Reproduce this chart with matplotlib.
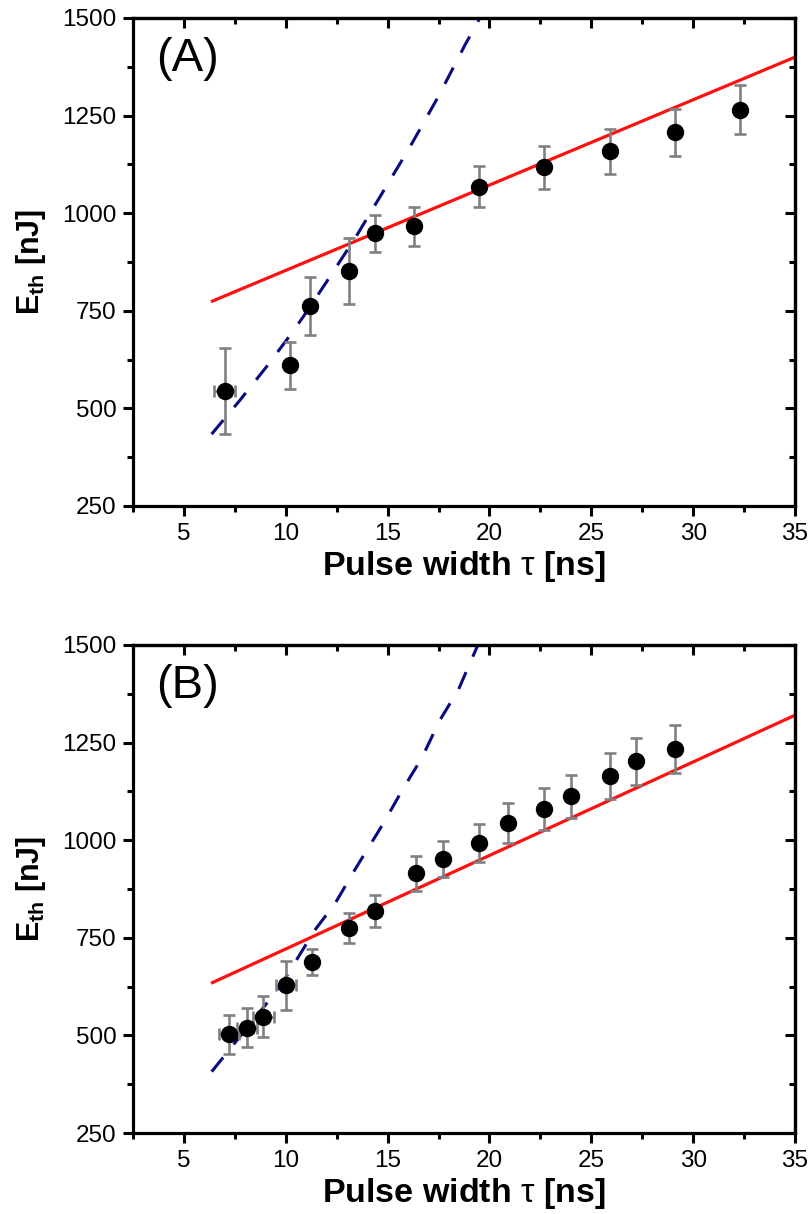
import numpy as np
import matplotlib
matplotlib.use('Agg')
import matplotlib.pyplot as plt
from matplotlib.ticker import MultipleLocator

plt.rcParams['font.family'] = ['Liberation Sans', 'DejaVu Sans']
plt.rcParams['mathtext.fontset'] = 'custom'
plt.rcParams['mathtext.rm'] = 'Liberation Sans'
plt.rcParams['mathtext.it'] = 'Liberation Sans'
plt.rcParams['mathtext.bf'] = 'Liberation Sans:bold'

# panel A data
tau_a = [7.0, 10.2, 11.2, 13.1, 14.4, 16.3, 19.5, 22.7, 25.9, 29.1, 32.3]
e_a = [545, 610, 762, 852, 948, 967, 1068, 1118, 1158, 1207, 1265]
err_a = [110, 60, 75, 85, 48, 50, 53, 55, 58, 61, 63]
xerr_a = [0.5, 0, 0, 0, 0, 0, 0, 0, 0, 0, 0]

# panel B data
tau_b = [7.2, 8.1, 8.9, 10.0, 11.3, 13.1, 14.4, 16.4, 17.7, 19.5, 20.9,
         22.7, 24.0, 25.9, 27.2, 29.1]
e_b = [503, 520, 548, 628, 688, 775, 818, 915, 952, 993, 1045,
       1080, 1112, 1165, 1202, 1233]
err_b = [50, 50, 53, 62, 33, 38, 41, 44, 46, 49, 51, 55, 55, 59, 60, 61]
xerr_b = [0.5, 0.5, 0.5, 0.5, 0, 0, 0, 0, 0, 0, 0, 0, 0, 0, 0, 0]

# long-pulse linear fits (slope, intercept)
fit_long_a = (21.85, 635.0)
fit_long_b = (23.95, 482.0)

# short-pulse fit curves
short_x_a = [6.36, 7.75, 9.06, 10.28, 10.86, 11.95, 13.45, 16.1, 17.48, 18.8, 19.53]
short_y_a = [434, 521, 607, 692, 735, 820, 940, 1170, 1298, 1431, 1500]
short_x_b = [6.36, 9.06, 9.72, 11.43, 12.42, 13.48, 14.79, 15.77, 16.67, 17.57,
             18.47, 19.43]
short_y_b = [407, 582, 625, 770, 838, 932, 1043, 1133, 1210, 1308, 1385, 1500]

fig = plt.figure(figsize=(8.12, 12.14), dpi=100)
ax_a = fig.add_axes([0.1638, 0.5832, 0.8153, 0.402])
ax_b = fig.add_axes([0.1638, 0.0667, 0.8153, 0.402])


def draw(ax, tau, e, err, xerr, fit_long, sx, sy, tag):
    x = np.linspace(6.4, 35, 50)
    ax.plot(x, fit_long[0] * x + fit_long[1], color='#ff1010', lw=2.3, zorder=2)
    ax.plot(sx, sy, color='#0a0a80', lw=2.2, ls=(0, (6, 5.5)), zorder=2)
    ax.errorbar(tau, e, yerr=err, xerr=xerr, fmt='none', ecolor='#808080',
                elinewidth=1.9, capsize=4, capthick=1.9, zorder=3)
    ax.plot(tau, e, 'o', color='black', ms=11.5, zorder=4)

    ax.set_xlim(2.5, 35)
    ax.set_ylim(250, 1500)
    ax.xaxis.set_major_locator(MultipleLocator(5))
    ax.xaxis.set_minor_locator(MultipleLocator(2.5))
    ax.yaxis.set_major_locator(MultipleLocator(250))
    ax.yaxis.set_minor_locator(MultipleLocator(125))
    ax.tick_params(which='major', direction='out', length=7, width=2.2,
                   labelsize=17.5, pad=5)
    ax.tick_params(which='minor', direction='out', length=4, width=2.2)
    for s in ax.spines.values():
        s.set_linewidth(2.3)

    top = ax.secondary_xaxis('top')
    top.xaxis.set_major_locator(MultipleLocator(5))
    top.xaxis.set_minor_locator(MultipleLocator(2.5))
    top.tick_params(which='major', direction='in', length=7, width=2.2, labeltop=False)
    top.tick_params(which='minor', direction='in', length=4, width=2.2)
    top.spines['top'].set_linewidth(2.3)
    right = ax.secondary_yaxis('right')
    right.yaxis.set_major_locator(MultipleLocator(250))
    right.yaxis.set_minor_locator(MultipleLocator(125))
    right.tick_params(which='major', direction='in', length=7, width=2.2, labelright=False)
    right.tick_params(which='minor', direction='in', length=4, width=2.2)
    right.spines['right'].set_linewidth(2.3)

    ax.set_xlabel(r'Pulse width $\mathrm{\tau}$ [ns]', fontsize=24.5,
                  fontweight='bold', labelpad=3)
    ax.set_ylabel(r'$\mathbf{E_{th}}$ [nJ]', fontsize=22, fontweight='bold',
                  labelpad=10)
    ax.text(0.035, 0.962, tag, transform=ax.transAxes, fontsize=34,
            va='top', ha='left')


draw(ax_a, tau_a, e_a, err_a, xerr_a, fit_long_a, short_x_a, short_y_a, '(A)')
draw(ax_b, tau_b, e_b, err_b, xerr_b, fit_long_b, short_x_b, short_y_b, '(B)')

fig.savefig('out.png', dpi=100)
